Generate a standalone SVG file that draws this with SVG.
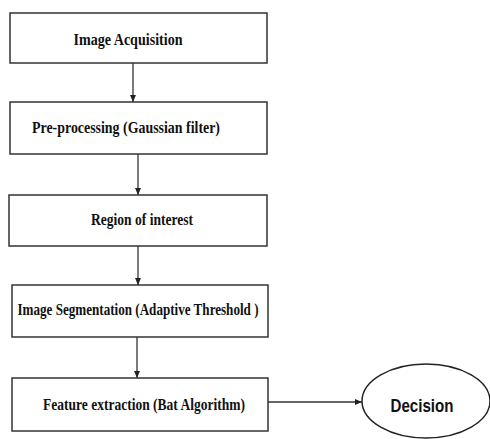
<svg xmlns="http://www.w3.org/2000/svg" width="490" height="439" viewBox="0 0 490 439">
<defs>
<marker id="arr" markerWidth="8" markerHeight="8" refX="7" refY="4" orient="auto" markerUnits="userSpaceOnUse">
<path d="M0,1 L7,4 L0,7 Z" fill="#222"/>
</marker>
<style>
.box{fill:#fff;stroke:#333;stroke-width:1.5}
.t{font-family:"Liberation Serif","Times New Roman",serif;font-weight:bold;font-size:17px;fill:#111;text-anchor:middle}
.c{stroke:#333;stroke-width:1.3;fill:none}
.d{font-family:"Liberation Sans",Arial,sans-serif;font-weight:bold;font-size:19px;fill:#111;text-anchor:middle}
</style>
</defs>
<rect width="490" height="439" fill="#fff"/>
<g id="n1"><rect class="box" x="10" y="13" width="257" height="50"/><text class="t" x="128" y="45" textLength="109" lengthAdjust="spacingAndGlyphs">Image Acquisition</text></g>
<g id="n2"><rect class="box" x="10" y="102" width="257" height="52"/><text class="t" x="126" y="133" textLength="188" lengthAdjust="spacingAndGlyphs">Pre-processing  (Gaussian filter)</text></g>
<g id="n3"><rect class="box" x="9" y="195" width="258" height="51"/><text class="t" x="142" y="225" textLength="102" lengthAdjust="spacingAndGlyphs">Region of interest</text></g>
<g id="n4"><rect class="box" x="12" y="285" width="256" height="52"/><text class="t" x="138" y="315" textLength="241" lengthAdjust="spacingAndGlyphs">Image Segmentation (Adaptive Threshold )</text></g>
<g id="n5"><rect class="box" x="12" y="378" width="256" height="53"/><text class="t" x="144" y="410" textLength="202" lengthAdjust="spacingAndGlyphs">Feature extraction (Bat Algorithm)</text></g>
<g id="n6"><ellipse cx="426" cy="401" rx="64" ry="37" fill="#fff" stroke="#222" stroke-width="1.5"/><text class="d" x="422" y="412" textLength="63" lengthAdjust="spacingAndGlyphs">Decision</text></g>
<g id="connectors">
<line class="c" x1="133" y1="63" x2="133" y2="102" marker-end="url(#arr)"/>
<line class="c" x1="138" y1="154" x2="138" y2="195" marker-end="url(#arr)"/>
<line class="c" x1="138" y1="246" x2="138" y2="285" marker-end="url(#arr)"/>
<line class="c" x1="137" y1="337" x2="137" y2="378" marker-end="url(#arr)"/>
<line class="c" x1="268" y1="402" x2="362" y2="402" marker-end="url(#arr)"/>
</g>
</svg>
